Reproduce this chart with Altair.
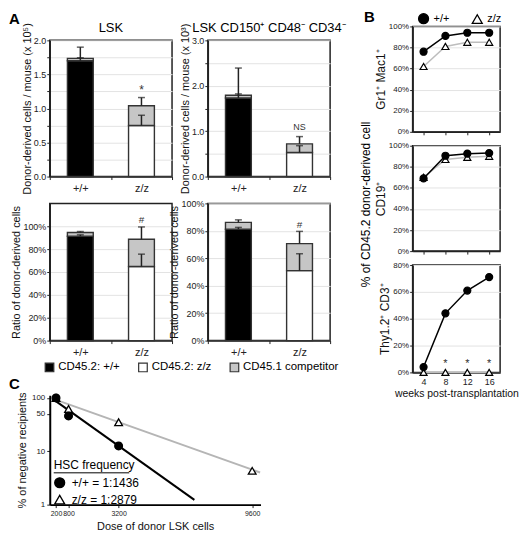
import altair as alt
import pandas as pd

FONT = "Liberation Sans"
DARK = "#222222"

GENOS = ["+/+", "z/z"]
COMPONENTS = ["CD45.2: +/+", "CD45.2: z/z", "CD45.1 competitor"]
COMP_COLORS = ["#000000", "#ffffff", "#c6c6c6"]

# ---------------- Panel A ----------------
LSK_BASE = [1.70, 0.75]
LSK_TOTAL = [1.735, 1.04]
LSK_BASE_ERR = [1.745, 0.90]
LSK_TOTAL_ERR = [1.90, 1.16]
LSK_NOTE = ["*"]
LSK_NOTE_Y = [1.27]

HSC_BASE = [1.73, 0.53]
HSC_TOTAL = [1.79, 0.72]
HSC_BASE_ERR = [1.82, 0.68]
HSC_TOTAL_ERR = [2.39, 0.88]
HSC_NOTE = ["NS"]
HSC_NOTE_Y = [1.10]

RLSK_BASE = [91.3, 64.8]
RLSK_TOTAL = [94.6, 88.6]
RLSK_BASE_ERR = [92.5, 75.6]
RLSK_TOTAL_ERR = [95.4, 99.4]
RLSK_NOTE = ["#"]
RLSK_NOTE_Y = [105.5]

RHSC_BASE = [81.2, 51.0]
RHSC_TOTAL = [86.2, 70.7]
RHSC_BASE_ERR = [82.5, 63.3]
RHSC_TOTAL_ERR = [88.0, 79.6]
RHSC_NOTE = ["#"]
RHSC_NOTE_Y = [84.5]

LSK_TICKS = [0, 0.25, 0.5, 0.75, 1.0, 1.25, 1.5, 1.75, 2.0]
HSC_TICKS = [0, 0.5, 1.0, 1.5, 2.0, 2.5, 3.0]
PCT_TICKS = [0, 20, 40, 60, 80, 100]

# ---------------- Panel B ----------------
WEEKS = [4, 8, 12, 16]
GR_WT = [76, 91, 94, 94]
GR_ZZ = [62, 81, 85, 85]
CD19_WT = [69, 90.5, 92.5, 93]
CD19_ZZ = [70, 87, 89, 90]
T_WT = [4, 44, 61, 71]
T_ZZ = [0, 0, 0, 0]
T_STAR_WEEKS = [8, 12, 16]
T_STAR_Y = [6.5, 6.5, 6.5]

# ---------------- Panel C ----------------
WT_DOSE = [200, 800, 3200]
WT_NEG = [100, 46, 12.6]
ZZ_DOSE = [200, 800, 3200, 9600]
ZZ_NEG = [100, 62, 35, 4.3]
WT_FIT_DOSE = [105, 6830]
WT_FIT_NEG = [92, 1.23]
ZZ_FIT_DOSE = [0, 9980]
ZZ_FIT_NEG = [98, 4.0]
HSC_FREQ = ["1:1436", "1:2879"]
DOSE_TICKS = [200, 800, 3200, 9600]
NEG_TICKS = [1, 10, 50, 100]


def text_layer(txt, x, y, size, weight="normal", align="center", baseline="middle", angle=0):
    return alt.Chart(pd.DataFrame({"t": [txt]})).mark_text(
        fontSize=size, fontWeight=weight, align=align, baseline=baseline, color="black",
        angle=angle
    ).encode(x=alt.value(x), y=alt.value(y), text="t:N")


def geno_marks(legend):
    return dict(
        shape=alt.Shape("geno:N", scale=alt.Scale(domain=GENOS, range=["circle", "triangle-up"]),
                        legend=legend),
        fill=alt.Fill("geno:N", scale=alt.Scale(domain=GENOS, range=["#000000", "#ffffff"]),
                      legend=legend),
        stroke=alt.Stroke("geno:N", scale=alt.Scale(domain=GENOS, range=["#000000", "#000000"]),
                          legend=legend),
    )


def a_panel(base, total, base_err, total_err, note, note_y, note_size, ymax, yvals,
            label_expr, ytitle, w, h, ptitle=None, letter=None):
    bars = pd.DataFrame({
        "genotype": GENOS + GENOS,
        "component": [COMPONENTS[0], COMPONENTS[1], COMPONENTS[2], COMPONENTS[2]],
        "y0": [0, 0, base[0], base[1]],
        "y1": [base[0], base[1], total[0], total[1]],
    })
    errs = pd.DataFrame({"genotype": GENOS + GENOS, "lo": base + total,
                         "hi": base_err + total_err})
    notes = pd.DataFrame({"genotype": ["z/z"] * len(note), "y": note_y, "t": note})
    X = alt.X("genotype:N",
              scale=alt.Scale(domain=GENOS, paddingInner=0, paddingOuter=0),
              axis=alt.Axis(title=None, labelAngle=0, tickBand="extent", labelFontSize=11,
                            tickSize=3, labelPadding=3, domainWidth=1.5, grid=False))
    ysc = alt.Scale(domain=[0, ymax], nice=False)
    yax = alt.Axis(values=yvals, labelExpr=label_expr, title=ytitle, grid=True,
                   labelFontSize=9, titleFontSize=11, tickSize=3,
                   labelPadding=1, titlePadding=1, domainWidth=1.5)
    layers = [
        alt.Chart(bars).mark_bar(size=26, stroke="#333333", strokeWidth=1.4).encode(
            x=X,
            y=alt.Y("y0:Q", scale=ysc, axis=yax),
            y2="y1:Q",
            fill=alt.Fill("component:N", scale=alt.Scale(domain=COMPONENTS, range=COMP_COLORS),
                          legend=None),
        ),
        alt.Chart(errs).mark_rule(color=DARK, strokeWidth=1.5).encode(
            x=X, y=alt.Y("lo:Q", scale=ysc, axis=yax), y2="hi:Q"),
        alt.Chart(errs).mark_tick(color=DARK, thickness=1.5, size=7).encode(
            x=X, y=alt.Y("hi:Q", scale=ysc, axis=yax)),
        alt.Chart(notes).mark_text(fontSize=note_size, color="#333333").encode(
            x=X, y=alt.Y("y:Q", scale=ysc, axis=yax), text="t:N"),
    ]
    if ptitle:
        layers.append(text_layer(ptitle, w / 2, -12, 13))
    if letter:
        layers.append(text_layer(letter, -41, -28, 15, "bold", "left", "top"))
    return alt.layer(*layers).properties(width=w, height=h)


def b_panel(wt, zz, ymax, yvals, ytitle, h, w=88, show_x=False, legend=False,
            letter=None, star_weeks=None, star_y=None, outer=None):
    df = pd.DataFrame({"week": WEEKS + WEEKS, "value": zz + wt,
                       "geno": ["z/z"] * 4 + ["+/+"] * 4})
    xaxis = dict(labels=show_x, labelAngle=0, labelFontSize=9, titleFontSize=10.5, tickSize=3,
                 domainWidth=1.5, grid=False, labelPadding=2, titlePadding=2,
                 labelColor="#222222")
    xaxis["title"] = "weeks post-transplantation" if show_x else None
    X = alt.X("week:O", scale=alt.Scale(type="point", padding=0.5), axis=alt.Axis(**xaxis))
    ysc = alt.Scale(domain=[0, ymax], nice=False)
    yax = alt.Axis(values=yvals, labelExpr="datum.value + '%'", title=ytitle, grid=True,
                   labelFontSize=8, titleFontSize=12, tickSize=3, labelPadding=1,
                   titlePadding=1, domainWidth=1.5)
    Y = alt.Y("value:Q", scale=ysc, axis=yax)
    if legend:
        leg = alt.Legend(orient="none", legendX=5, legendY=-14, direction="horizontal",
                         title=None, labelFontSize=11, symbolSize=100,
                         symbolStrokeWidth=1.3, columnPadding=20, labelOffset=4)
    else:
        leg = None
    layers = [
        alt.Chart(df).transform_filter(alt.datum.geno == "z/z").mark_line(
            strokeWidth=1.5, color="#bdbdbd").encode(x=X, y=Y),
        alt.Chart(df).transform_filter(alt.datum.geno == "+/+").mark_line(
            strokeWidth=1.5, color="#000000").encode(x=X, y=Y),
        alt.Chart(df).mark_point(filled=True, size=50, strokeWidth=1.2, opacity=1).encode(
            x=X, y=Y, **geno_marks(leg)),
    ]
    if star_weeks:
        sdf = pd.DataFrame({"week": star_weeks, "y": star_y, "t": ["*"] * len(star_weeks)})
        layers.append(alt.Chart(sdf).mark_text(fontSize=11, color="#333333").encode(
            x=X, y=alt.Y("y:Q", scale=ysc, axis=yax), text="t:N"))
    if letter:
        layers.append(text_layer(letter, -49, -16, 15, "bold", "left", "top"))
    if outer:
        layers.append(text_layer(outer, -47, h / 2 + 6, 12, angle=270))
    return alt.layer(*layers).properties(width=w, height=h)


def c_panel(w, h):
    pts = pd.DataFrame({"dose": ZZ_DOSE + WT_DOSE, "neg": ZZ_NEG + WT_NEG,
                        "geno": ["z/z"] * len(ZZ_DOSE) + ["+/+"] * len(WT_DOSE)})
    fit = pd.DataFrame({"dose": ZZ_FIT_DOSE + WT_FIT_DOSE, "neg": ZZ_FIT_NEG + WT_FIT_NEG,
                        "geno": ["z/z"] * 2 + ["+/+"] * 2})
    xax = alt.Axis(values=DOSE_TICKS, title="Dose of donor LSK cells", labelFontSize=7,
                   titleFontSize=11, grid=False, tickSize=3, domainWidth=2, format="d",
                   domainColor="black", labelOverlap=False, labelPadding=2, titlePadding=4)
    yax = alt.Axis(values=NEG_TICKS, title="% of negative recipients", labelFontSize=8,
                   titleFontSize=11, grid=False, tickSize=3, domainWidth=2,
                   domainColor="black", labelPadding=2, titlePadding=4, format="d")
    X = alt.X("dose:Q", scale=alt.Scale(domain=[-100, 10000], nice=False, zero=False), axis=xax)
    Y = alt.Y("neg:Q", scale=alt.Scale(type="log", domain=[1, 112], nice=False), axis=yax)
    lab = (f"datum.label == '+/+' ? '+/+ = {HSC_FREQ[0]}' : 'z/z = {HSC_FREQ[1]}'")
    leg = alt.Legend(orient="none", legendX=4, legendY=65, direction="vertical",
                     title="HSC frequency", titleFontSize=12, titleFontWeight="normal",
                     labelFontSize=12, symbolSize=100,
                     symbolStrokeWidth=1.3, labelExpr=lab, rowPadding=2, titlePadding=5,
                     labelOffset=6)
    layers = [
        alt.Chart(fit).transform_filter(alt.datum.geno == "z/z").mark_line(
            strokeWidth=2, color="#b5b5b5").encode(x=X, y=Y),
        alt.Chart(fit).transform_filter(alt.datum.geno == "+/+").mark_line(
            strokeWidth=2, color="#000000").encode(x=X, y=Y),
        alt.Chart(pts).mark_point(filled=True, size=60, strokeWidth=1.3, opacity=1).encode(
            x=X, y=Y, **geno_marks(leg)),
        alt.Chart(pd.DataFrame({"t": [0]})).mark_rule(color="black", strokeWidth=1).encode(
            x=alt.value(4), x2=alt.value(80), y=alt.value(78)),
        text_layer("C", -41, -18, 15, "bold", "left", "top"),
    ]
    return alt.layer(*layers).properties(width=w, height=h,
                                         view=alt.ViewBackground(stroke=None))


def legend_chart():
    df = pd.DataFrame({"component": COMPONENTS})
    return alt.Chart(df).mark_square(opacity=0).encode(
        fill=alt.Fill("component:N", scale=alt.Scale(domain=COMPONENTS, range=COMP_COLORS),
                      legend=alt.Legend(orient="none", legendX=-6, legendY=0,
                                        direction="horizontal", title=None, labelFontSize=11.5,
                                        symbolType="square", symbolSize=75, symbolOpacity=1,
                                        symbolStrokeColor="#333333", symbolStrokeWidth=1.2,
                                        columnPadding=16, labelOffset=3))
    ).properties(width=300, height=12, view=alt.ViewBackground(stroke=None))


def spacer(h):
    return alt.Chart(pd.DataFrame({"t": [0]})).mark_point(opacity=0, size=1).encode(
        x=alt.value(0), y=alt.value(0)).properties(
        width=1, height=h, view=alt.ViewBackground(stroke=None))


def ind(c):
    return c.resolve_scale(x="independent", y="independent", fill="independent",
                           shape="independent", color="independent",
                           stroke="independent").resolve_legend(
        fill="independent", shape="independent", color="independent", stroke="independent")


AW = 123
pct_expr = "datum.value + '%'"
a11 = a_panel(LSK_BASE, LSK_TOTAL, LSK_BASE_ERR, LSK_TOTAL_ERR, LSK_NOTE, LSK_NOTE_Y, 12,
              2.0, LSK_TICKS,
              "(round(datum.value*4) % 2 == 0) ? format(datum.value, '.1f') : ''",
              "Donor-derived cells / mouse (x 10\u2075)", AW, 137, ptitle="LSK", letter="A")
a12 = a_panel(HSC_BASE, HSC_TOTAL, HSC_BASE_ERR, HSC_TOTAL_ERR, HSC_NOTE, HSC_NOTE_Y, 9,
              3.0, HSC_TICKS,
              "(round(datum.value*2) % 2 == 0) ? format(datum.value, '.1f') : ''",
              "Donor-derived cells / mouse (x 10\u00b3)", AW, 137,
              ptitle="LSK CD150\u207a CD48\u207b CD34\u207b")
a21 = a_panel(RLSK_BASE, RLSK_TOTAL, RLSK_BASE_ERR, RLSK_TOTAL_ERR, RLSK_NOTE, RLSK_NOTE_Y, 10,
              120, PCT_TICKS, pct_expr, "Ratio of donor-derived cells", AW, 138)
a22 = a_panel(RHSC_BASE, RHSC_TOTAL, RHSC_BASE_ERR, RHSC_TOTAL_ERR, RHSC_NOTE, RHSC_NOTE_Y, 10,
              100, PCT_TICKS, pct_expr, "Ratio of donor-derived cells", AW, 138)

b1 = b_panel(GR_WT, GR_ZZ, 100, PCT_TICKS, "Gr1\u207a Mac1\u207a", 106, legend=True,
             letter="B")
b2 = b_panel(CD19_WT, CD19_ZZ, 100, PCT_TICKS, "CD19\u207a", 106,
             outer="% of CD45.2 donor-derived cell")
b3 = b_panel(T_WT, T_ZZ, 80, [0, 20, 40, 60, 80], "Thy1.2\u207a CD3\u207a", 108, show_x=True,
             star_weeks=T_STAR_WEEKS, star_y=T_STAR_Y)

row1 = ind(alt.hconcat(a11, a12, spacing=36, bounds="flush"))
row2 = ind(alt.hconcat(a21, a22, spacing=36, bounds="flush"))
row3 = ind(alt.hconcat(legend_chart(), bounds="flush"))
row4 = ind(alt.hconcat(c_panel(212, 110), bounds="flush"))
inner = ind(alt.vconcat(row1, row2, row3, row4, spacing=3))
left = ind(alt.vconcat(spacer(1), inner, spacing=-16))
right = ind(alt.vconcat(b1, b2, b3, spacing=14, bounds="flush"))
chart = ind(alt.hconcat(left, right, spacing=11)).properties(padding=0)

chart = chart.configure(font=FONT).configure_view(stroke=DARK, strokeWidth=1.5).configure_axis(
    domainColor=DARK, tickColor=DARK, gridColor="#e3e3e3", labelColor="#222222",
    titleColor="#111111", titleFontWeight="normal")

chart.save("out.html", embed_options={"renderer": "svg", "actions": False})
